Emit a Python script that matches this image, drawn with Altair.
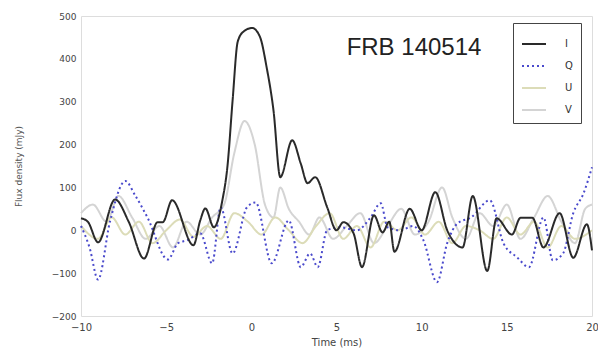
import altair as alt
import pandas as pd

# Stokes I (solid black)
t_I = [-10, -9.6, -9.0, -8.0, -7.2, -6.3, -5.5, -5.2, -4.65, -3.4, -3.0, -2.7, -2.2, -1.7,
       -1.4, -1.1, -0.8, -0.45, 0.05, 0.5, 0.9, 1.3, 1.7, 2.4, 2.9, 3.3, 3.75, 4.45, 5.0,
       5.4, 6.0, 6.5, 7.2, 7.7, 8.1, 8.4, 9.3, 10.0, 10.8, 11.5, 12.4, 13.0, 13.85, 14.4,
       15.3, 15.8, 16.5, 17.15, 18.1, 18.9, 19.7, 20]
v_I = [28, 20, -28, 72, 20, -66, 19, 19, 70, -35, 23, 51, 7, 70,
       150, 303, 440, 464, 472, 452, 380, 280, 124, 210, 156, 110, 124, 54, 0,
       19, -7, -86, 35, -5, 20, -50, 50, 0, 89, 0, -40, 80, -95, 28,
       -10, 29, 29, -40, 40, -64, 14, -47]

# Stokes Q (blue dotted)
t_Q = [-10, -9.5, -9.0, -8.3, -7.4, -6.8, -6.1, -4.9, -4.3, -3.75, -3.0, -2.3, -1.8, -1.1,
       -0.25, 0.25, 1.2, 2.2, 2.9, 3.45, 3.9, 4.45, 5.2, 6.2, 7.0, 7.6, 8.0, 8.75, 9.5,
       10.1, 10.9, 11.5, 12.1, 12.9, 14.0, 14.8, 15.6, 16.3, 17.15, 17.7, 18.3, 18.9, 19.5, 20]
v_Q = [10, -40, -115, 20, 115, 80, 30, -68, -30, -23, -7, -77, 54, -54,
       54, 65, -77, 23, -86, -54, -86, 0, 7, 0, 30, 63, 7, 0, 10,
       -23, -121, -30, 16, 30, 70, -30, -63, -86, 30, -70, -54, 40, 86, 147]

# Stokes U (faint thin line)
t_U = [-10, -9.0, -8.2, -7.4, -6.6, -5.8, -5.0, -4.2, -3.4, -2.6, -1.8, -1.0, -0.2, 0.6,
       1.4, 2.2, 3.0, 3.8, 4.6, 5.4, 6.2, 7.0, 7.8, 8.6, 9.4, 10.2, 11.0, 11.8, 12.6,
       13.4, 14.2, 15.0, 15.8, 16.6, 17.4, 18.2, 19.0, 20]
v_U = [10, -20, 30, -10, 20, -30, 0, 25, -15, 10, -20, 40, 20, -10,
       30, 0, -30, 10, 40, -20, 10, -40, 20, 0, 30, -10, 20, -30, 10,
       0, -20, 30, -10, 20, -40, 10, -20, 0]

# Stokes V (faint thicker line)
t_V = [-10, -9.3, -8.5, -7.8, -7.0, -6.2, -5.4, -4.6, -3.8, -3.0, -2.3, -1.6, -1.0, -0.4,
       0.2, 0.8, 1.3, 1.7, 2.2, 2.8, 3.4, 4.0, 4.8, 5.6, 6.4, 7.2, 8.0, 8.8, 9.6, 10.4,
       11.2, 11.8, 12.6, 13.4, 14.2, 15.0, 15.8, 16.6, 17.4, 18.2, 19.0, 19.6, 20]
v_V = [40, 60, 20, 80, 30, -20, 10, -40, 20, -10, 30, 60, 180, 255,
       200, 60, 30, 100, 50, 20, -10, 30, -20, 10, 40, -30, 10, 50, -10, 20,
       100, 30, -20, 40, 10, 60, -20, 30, 80, 20, -30, 50, 60]

series = ["I", "Q", "U", "V"]
colors = ["#2a2a2a", "#4a4acc", "#dcdcb8", "#d4d4d4"]
dashes = [[1, 0], [2, 3], [1, 0], [1, 0]]
widths = [2, 2, 1, 3]

rows = []
for name, ts, vs in [("V", t_V, v_V), ("U", t_U, v_U), ("Q", t_Q, v_Q), ("I", t_I, v_I)]:
    for t, v in zip(ts, vs):
        rows.append({"series": name, "t": t, "flux": v})
df = pd.DataFrame(rows)

legend = alt.Legend(title=None, orient="none", strokeColor="#444",
                    fillColor="white", padding=8, symbolType="stroke", symbolSize=576,
                    labelFontSize=10, labelColor="#333", labelOffset=18, rowPadding=4,
                    legendX=432, legendY=7, symbolStrokeWidth=2)

lines = alt.Chart(df).mark_line(interpolate="monotone").encode(
    x=alt.X("t:Q", scale=alt.Scale(domain=[-10, 20], nice=False),
            axis=alt.Axis(title="Time (ms)", values=[-10, -5, 0, 5, 10, 15, 20],
                          labelFontSize=10, titleFontSize=10, labelPadding=6,
                          titlePadding=5, ticks=False, domain=False, grid=False,
                          titleFontWeight="normal",
                          labelColor="#444", titleColor="#444", labelFlush=False)),
    y=alt.Y("flux:Q", scale=alt.Scale(domain=[-200, 500], nice=False),
            axis=alt.Axis(title="Flux density (mJy)", values=[-200, -100, 0, 100, 200, 300, 400, 500],
                          labelFontSize=9, titleFontSize=9, labelPadding=5,
                          ticks=False, domain=False, grid=False,
                          titleFontWeight="normal",
                          labelColor="#444", titleColor="#555",
                          titleX=-63, titleY=150, titleAlign="center",
                          titleBaseline="middle", titleAngle=270)),
    color=alt.Color("series:N", scale=alt.Scale(domain=series, range=colors), legend=legend),
    strokeDash=alt.StrokeDash("series:N", scale=alt.Scale(domain=series, range=dashes), legend=legend),
    strokeWidth=alt.StrokeWidth("series:N", scale=alt.Scale(domain=series, range=widths), legend=legend),
    detail="series:N",
)

label = alt.Chart(pd.DataFrame({"txt": ["FRB 140514"]})).mark_text(
    fontSize=24, color="#222", font="Liberation Sans", align="center", baseline="middle"
).encode(text="txt:N", x=alt.value(333), y=alt.value(32))

chart = alt.layer(lines, label).properties(
    width=511, height=300,
    autosize=alt.AutoSizeParams(type="none"),
    padding={"left": 81, "top": 16, "right": 6, "bottom": 38},
).configure_view(stroke="#aaa", strokeWidth=2).configure(
    font="DejaVu Sans", background="white"
)

chart.save("out.html", embed_options={"renderer": "svg", "actions": False})
